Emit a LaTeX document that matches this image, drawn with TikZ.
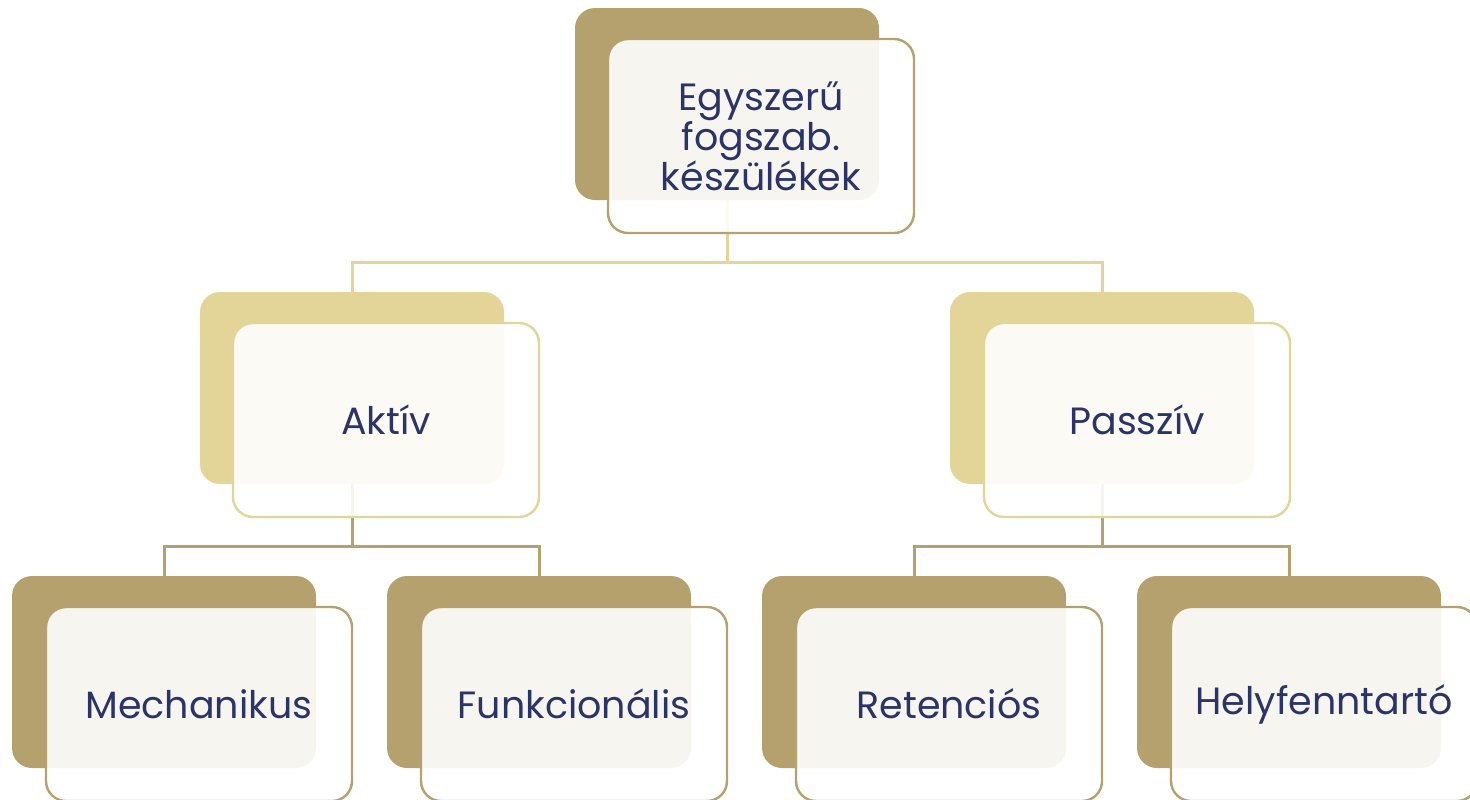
\documentclass[tikz,border=0pt]{standalone}
\usepackage{fontspec}
\setmainfont{Poppins}
\usepackage{tikz}
\usepackage{color}
\definecolor{darkgold}{HTML}{B5A16D}
\definecolor{lightgold}{HTML}{E3D497}
\definecolor{navy}{HTML}{2B3468}
\tikzset{
	backbox/.style={rounded corners=10pt, inner sep=0pt, minimum width=152pt, minimum height=96pt},
	frontbox/.style={rounded corners=10pt, draw, line width=1.2pt, fill=white, fill opacity=0.9, text opacity=1, text=navy,
		minimum width=153pt, minimum height=97pt, inner sep=0pt, align=center, font=\fontsize{19}{20}\selectfont},
	link/.style={line width=1.5pt}
}

\begin{document}
\begin{tikzpicture}[x=0.5pt,y=-0.5pt]
		\useasboundingbox (0,0) rectangle (1470,799);
		\clip (0,0) rectangle (1470,799);
		% back boxes
		\node[backbox, fill=darkgold] (topback) at (727,104) {};
		\node[backbox, fill=lightgold] (aktivback) at (352,388) {};
		\node[backbox, fill=lightgold] (passzivback) at (1102,388) {};
		\node[backbox, fill=darkgold] (mechback) at (164,672) {};
		\node[backbox, fill=darkgold] (funkback) at (539,672) {};
		\node[backbox, fill=darkgold] (retback) at (914,672) {};
		\node[backbox, fill=darkgold] (helyback) at (1289,672) {};
		% connectors
		\draw[link, lightgold] (topback.south) -- ++(0,62) -| (aktivback.north);
		\draw[link, lightgold] (topback.south) -- ++(0,62) -| (passzivback.north);
		\draw[link, darkgold] (aktivback.south) -- ++(0,62) -| (mechback.north);
		\draw[link, darkgold] (aktivback.south) -- ++(0,62) -| (funkback.north);
		\draw[link, darkgold] (passzivback.south) -- ++(0,62) -| (retback.north);
		\draw[link, darkgold] (passzivback.south) -- ++(0,62) -| (helyback.north);
		% front boxes
		\node[frontbox, draw=darkgold] (top) at (761,136) {Egyszerű\\fogszab.\\készülékek};
		\node[frontbox, draw=lightgold] (aktiv) at (386,420) {Aktív};
		\node[frontbox, draw=lightgold] (passziv) at (1137,420) {Passzív};
		\node[frontbox, draw=darkgold] (mech) at (199,704) {Mechanikus};
		\node[frontbox, draw=darkgold] (funk) at (574,704) {Funkcionális};
		\node[frontbox, draw=darkgold] (ret) at (949,704) {Retenciós};
		\node[frontbox, draw=darkgold] (hely) at (1324,704) {Helyfenntartó};
	\end{tikzpicture}
\end{document}
